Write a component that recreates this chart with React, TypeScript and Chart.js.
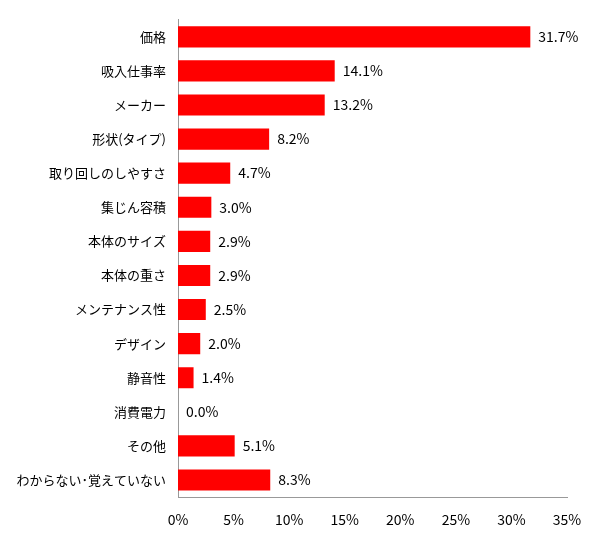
import React, { useEffect, useRef } from 'react';
import { Chart, registerables } from 'chart.js';

Chart.register(...registerables);

const categories = [
  '価格', '吸入仕事率', 'メーカー', '形状(タイプ)', '取り回しのしやすさ', '集じん容積', '本体のサイズ',
  '本体の重さ', 'メンテナンス性', 'デザイン', '静音性', '消費電力', 'その他', 'わからない･覚えていない',
];
const shares = [31.7, 14.1, 13.2, 8.2, 4.7, 3.0, 2.9, 2.9, 2.5, 2.0, 1.4, 0.0, 5.1, 8.3];
const xTicks = [0, 5, 10, 15, 20, 25, 30, 35];

const FONT = '"Noto Sans CJK JP", "Noto Sans", sans-serif';

const valueLabels = {
  id: 'valueLabels',
  afterDatasetsDraw(chart: any) {
    const ctx = chart.ctx;
    const meta = chart.getDatasetMeta(0);
    ctx.save();
    ctx.font = `14px ${FONT}`;
    ctx.fillStyle = '#000';
    ctx.textBaseline = 'middle';
    ctx.textAlign = 'left';
    meta.data.forEach((bar: any, i: number) => {
      ctx.fillText(shares[i].toFixed(1) + '%', bar.x + 8, bar.y);
    });
    ctx.restore();
  },
};

export default function App() {
  const canvasRef = useRef<HTMLCanvasElement>(null);

  useEffect(() => {
    document.body.style.margin = '0';
    let chart: Chart | null = null;
    if (canvasRef.current) {
      chart = new Chart(canvasRef.current, {
        type: 'bar',
        data: {
          labels: categories,
          datasets: [{
            data: shares,
            backgroundColor: '#ff0000',
            barPercentage: 0.62,
            categoryPercentage: 1,
          }],
        },
        options: {
          indexAxis: 'y',
          animation: false,
          responsive: false,
          maintainAspectRatio: false,
          layout: { padding: { top: 17, right: 31, bottom: 0, left: 0 } },
          plugins: { legend: { display: false }, tooltip: { enabled: false } },
          scales: {
            x: {
              min: 0,
              max: 35,
              afterBuildTicks: (scale: any) => { scale.ticks = xTicks.map((v) => ({ value: v })); },
              afterFit: (scale: any) => { scale.height = 53; },
              grid: { display: false, drawTicks: false },
              border: { display: true, color: '#999', width: 1 },
              ticks: {
                padding: 14,
                color: '#000',
                font: { family: FONT, size: 14 },
                callback: (v: any) => v + '%',
              },
            },
            y: {
              afterFit: (scale: any) => { scale.width = 178; },
              grid: { display: false, drawTicks: false },
              border: { display: true, color: '#999', width: 1 },
              ticks: {
                padding: 12,
                color: '#000',
                autoSkip: false,
                font: { family: FONT, size: 13 },
              },
            },
          },
        },
        plugins: [valueLabels],
      });
    }
    return () => { if (chart) chart.destroy(); };
  }, []);

  return (
    <div style={{ width: 598, height: 550, background: '#fff' }}>
      <canvas ref={canvasRef} width={598} height={550}></canvas>
    </div>
  );
}
